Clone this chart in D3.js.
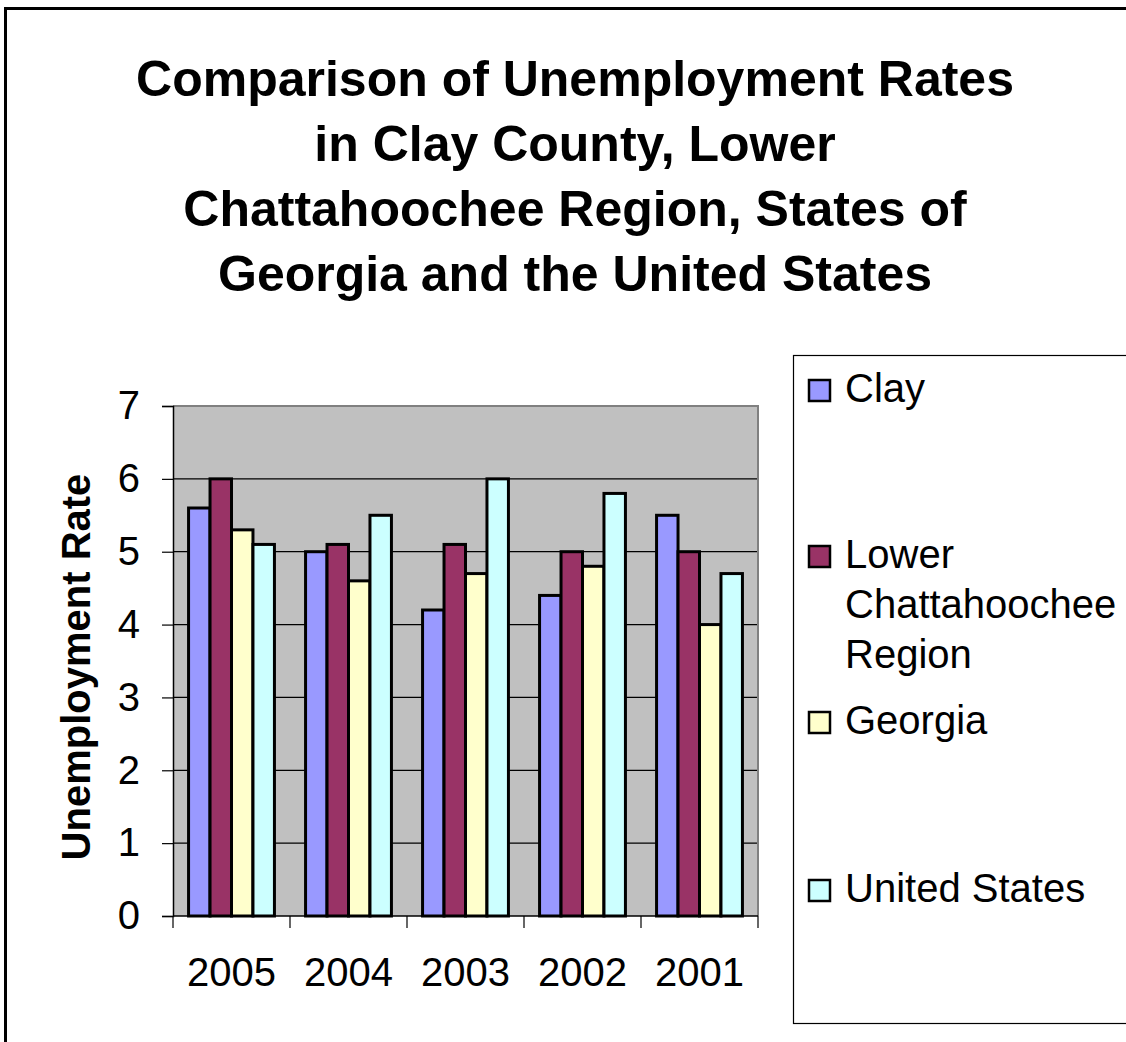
<!DOCTYPE html>
<html>
<head>
<meta charset="utf-8">
<script src="https://cdn.jsdelivr.net/npm/d3@7"></script>
<style>
  body { margin: 0; background: #fff; }
  svg { display: block; font-family: "Liberation Sans", Arial, sans-serif; }
</style>
</head>
<body>
<svg class="chart"></svg>
<script>
// chart data
const years = ['2005', '2004', '2003', '2002', '2001'];
const seriesNames = ['Clay', 'Lower Chattahoochee Region', 'Georgia', 'United States'];
const clay = [5.6, 5.0, 4.2, 4.4, 5.5];
const lowerChattahoochee = [6.0, 5.1, 5.1, 5.0, 5.0];
const georgia = [5.3, 4.6, 4.7, 4.8, 4.0];
const unitedStates = [5.1, 5.5, 6.0, 5.8, 4.7];
const yTicks = [0, 1, 2, 3, 4, 5, 6, 7];
const titleLines = [
  'Comparison of Unemployment Rates',
  'in Clay County, Lower',
  'Chattahoochee Region, States of',
  'Georgia and the United States'
];
const legendLines = [['Clay'], ['Lower', 'Chattahoochee', 'Region'], ['Georgia'], ['United States']];
const colors = ['#9999FF', '#993366', '#FFFFCC', '#CCFFFF'];

const seriesValues = [clay, lowerChattahoochee, georgia, unitedStates];
const data = years.map((y, i) => ({
  year: y,
  values: seriesNames.map((s, k) => ({ series: s, k: k, value: seriesValues[k][i] }))
}));

const svgWidth = 1126;
const svgHeight = 1042;
const plot = { left: 173, right: 758, top: 406, bottom: 916 };

const svg = d3.select('.chart')
  .attr('width', svgWidth)
  .attr('height', svgHeight);

// outer chart border
svg.append('rect')
  .attr('x', 5.5).attr('y', 8.5)
  .attr('width', svgWidth + 20).attr('height', svgHeight + 20)
  .attr('fill', '#fff')
  .attr('stroke', '#000')
  .attr('stroke-width', 3);

// title
svg.append('text')
  .attr('x', 575)
  .attr('y', 96)
  .attr('text-anchor', 'middle')
  .attr('font-size', '50px')
  .attr('font-weight', 'bold')
  .selectAll('tspan')
  .data(titleLines)
  .enter()
  .append('tspan')
  .attr('x', 575)
  .attr('dy', (d, i) => i === 0 ? 0 : 65)
  .text(d => d);

// scales
const x0 = d3.scaleBand()
  .domain(years)
  .range([plot.left, plot.right]);

const x1 = d3.scaleBand()
  .domain(seriesNames)
  .range([x0.bandwidth() * 0.133, x0.bandwidth() * 0.867]);

const yScale = d3.scaleLinear()
  .domain([0, 7])
  .range([plot.bottom, plot.top]);

// plot background
svg.append('rect')
  .attr('x', plot.left).attr('y', plot.top)
  .attr('width', plot.right - plot.left)
  .attr('height', plot.bottom - plot.top)
  .attr('fill', '#C0C0C0');

// gridlines
svg.append('g')
  .selectAll('line')
  .data(yTicks.filter(t => t > 0 && t < 7))
  .enter()
  .append('line')
  .attr('x1', plot.left).attr('x2', plot.right)
  .attr('y1', d => yScale(d)).attr('y2', d => yScale(d))
  .attr('stroke', '#000')
  .attr('stroke-width', 1.2);

// plot border top/right
svg.append('path')
  .attr('d', `M${plot.left},${plot.top}H${plot.right}V${plot.bottom}`)
  .attr('fill', 'none')
  .attr('stroke', '#808080')
  .attr('stroke-width', 2);

// bars
const groups = svg.append('g')
  .selectAll('g')
  .data(data)
  .enter()
  .append('g')
  .attr('transform', d => 'translate(' + x0(d.year) + ',0)');

groups.selectAll('rect')
  .data(d => d.values)
  .enter()
  .append('rect')
  .attr('x', d => x1(d.series))
  .attr('y', d => yScale(d.value))
  .attr('width', x1.bandwidth())
  .attr('height', d => yScale(0) - yScale(d.value))
  .attr('fill', d => colors[d.k])
  .attr('stroke', '#000')
  .attr('stroke-width', 3);

// y axis
const yAxisGroup = svg.append('g')
  .attr('transform', 'translate(' + plot.left + ',0)')
  .call(d3.axisLeft(yScale).tickValues(yTicks).tickSize(11).tickPadding(22).tickFormat(d3.format('d')));

yAxisGroup.select('.domain').attr('stroke', '#000').attr('stroke-width', 1.5);
yAxisGroup.selectAll('line').attr('stroke', '#000').attr('stroke-width', 1.2);
yAxisGroup.selectAll('text')
  .attr('font-size', '40px')
  .attr('font-family', '"Liberation Sans", Arial, sans-serif')
  .attr('fill', '#000');

// x axis
const xAxisGroup = svg.append('g')
  .attr('transform', 'translate(0,' + plot.bottom + ')')
  .call(d3.axisBottom(x0).tickSize(0).tickPadding(42));

xAxisGroup.select('.domain').remove();
xAxisGroup.selectAll('text')
  .attr('font-size', '40px')
  .attr('font-family', '"Liberation Sans", Arial, sans-serif')
  .attr('fill', '#000');

svg.append('line')
  .attr('x1', plot.left).attr('x2', plot.right)
  .attr('y1', plot.bottom).attr('y2', plot.bottom)
  .attr('stroke', '#000').attr('stroke-width', 1.5);

// category divider ticks
svg.append('g')
  .selectAll('line')
  .data(years.concat(['end']))
  .enter()
  .append('line')
  .attr('x1', (d, i) => plot.left + i * x0.step())
  .attr('x2', (d, i) => plot.left + i * x0.step())
  .attr('y1', plot.bottom).attr('y2', plot.bottom + 12)
  .attr('stroke', '#000').attr('stroke-width', 1.2);

// y axis title
svg.append('text')
  .attr('transform', 'translate(90,667) rotate(-90)')
  .attr('text-anchor', 'middle')
  .attr('font-size', '40px')
  .attr('font-weight', 'bold')
  .text('Unemployment Rate');

// legend
const legend = svg.append('g');
legend.append('rect')
  .attr('x', 793.5).attr('y', 355.5)
  .attr('width', 400).attr('height', 668)
  .attr('fill', '#fff')
  .attr('stroke', '#000')
  .attr('stroke-width', 1.2);

const legendBase = [402, 568, 734, 902];
const items = legend.selectAll('.item')
  .data(legendLines)
  .enter()
  .append('g')
  .attr('class', 'item');

items.append('rect')
  .attr('x', 809).attr('y', (d, i) => legendBase[i] - 22)
  .attr('width', 21).attr('height', 21)
  .attr('fill', (d, i) => colors[i])
  .attr('stroke', '#000')
  .attr('stroke-width', 2.5);

items.append('text')
  .attr('font-size', '40px')
  .attr('y', (d, i) => legendBase[i])
  .selectAll('tspan')
  .data(d => d)
  .enter()
  .append('tspan')
  .attr('x', 845)
  .attr('dy', (d, i) => i === 0 ? 0 : 50)
  .text(d => d);
</script>
</body>
</html>
